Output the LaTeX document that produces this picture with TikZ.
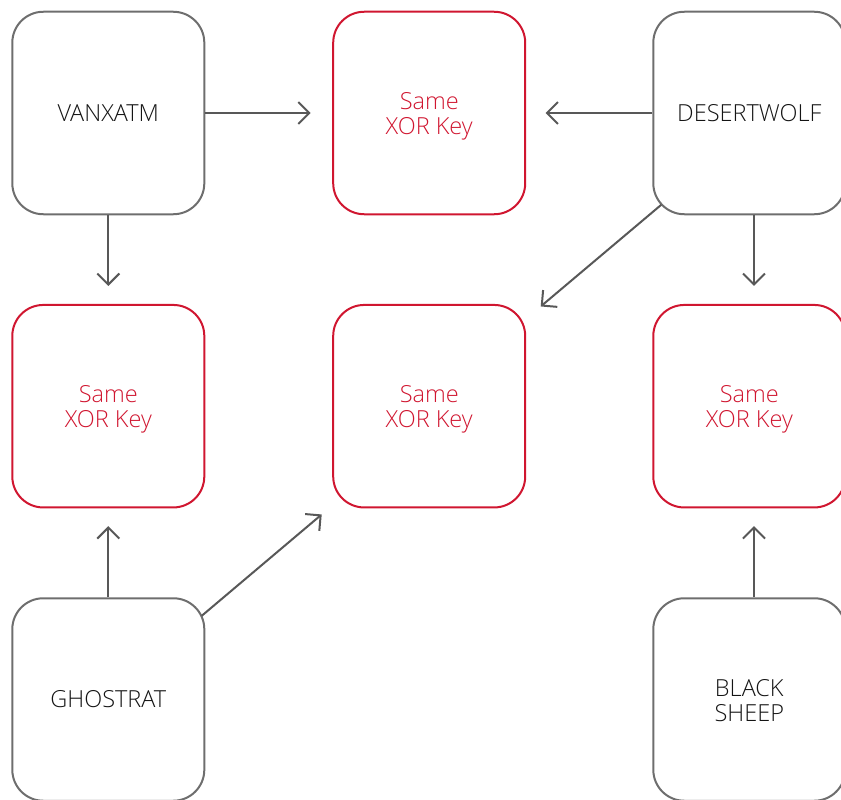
\documentclass[tikz,border=0pt]{standalone}
\usepackage{fontspec}
\setmainfont{Open Sans Light}
\usetikzlibrary{arrows.meta,calc}
\definecolor{boxgray}{RGB}{110,110,110}
\definecolor{arrgray}{RGB}{88,88,88}
\definecolor{keyred}{RGB}{208,22,48}
\definecolor{txtdark}{RGB}{20,20,20}
\newcommand{\twolines}[2]{\raisebox{3.5pt}[0pt][0pt]{\begin{tabular}[t]{@{}c@{}}#1\\#2\end{tabular}}}
\begin{document}
\begin{tikzpicture}[x=1pt,y=-1pt,
  boxbase/.style={rectangle, rounded corners=31pt, minimum width=192pt, minimum height=202.5pt, inner sep=0pt, line width=2pt, align=center, font=\fontsize{23.5}{25}\selectfont},
  malware/.style={boxbase, draw=boxgray, text=txtdark},
  xorkey/.style={boxbase, draw=keyred, text=keyred},
  arr/.style={draw=arrgray, line width=2pt, -{Straight Barb[length=11pt,width=22pt]}}]
\useasboundingbox (0,0) rectangle (841,800);
% nodes
\node[malware] (vx) at (108.3,113) {VANXATM};
\node[xorkey]  (tm) at (429.2,113) {\twolines{Same}{XOR Key}};
\node[malware] (dw) at (749.3,113) {DESERTWOLF};
\node[xorkey]  (ml) at (108.3,406.2) {\twolines{Same}{XOR Key}};
\node[xorkey]  (mm) at (429.2,406.2) {\twolines{Same}{XOR Key}};
\node[xorkey]  (mr) at (749.3,406.2) {\twolines{Same}{XOR Key}};
\node[malware] (gh) at (108.3,699.5) {GHOSTRAT};
\node[malware] (bs) at (749.3,699.5) {\twolines{BLACK}{SHEEP}};
% connectors
\draw[arr, shorten >=21.5pt] (vx) -- (tm);
\draw[arr, shorten >=19.3pt] (dw) -- (tm);
\draw[arr, shorten >=18pt] (vx) -- (ml);
\draw[arr, shorten >=18pt] ([xshift=4.7pt]dw.south) -- ([xshift=4.7pt]mr.north);
\draw[arr] ([shift={(9,-10.5)}]dw.south west) -- ([shift={(14.5,2.5)}]mm.north east);
\draw[arr, shorten >=17.7pt] (gh) -- (ml);
\draw[arr, shorten >=17.7pt] ([xshift=4.7pt]bs.north) -- ([xshift=4.7pt]mr.south);
\draw[arr] ([shift={(-3.5,18.5)}]gh.north east) -- ([shift={(-10.5,6)}]mm.south west);
\end{tikzpicture}
\end{document}
